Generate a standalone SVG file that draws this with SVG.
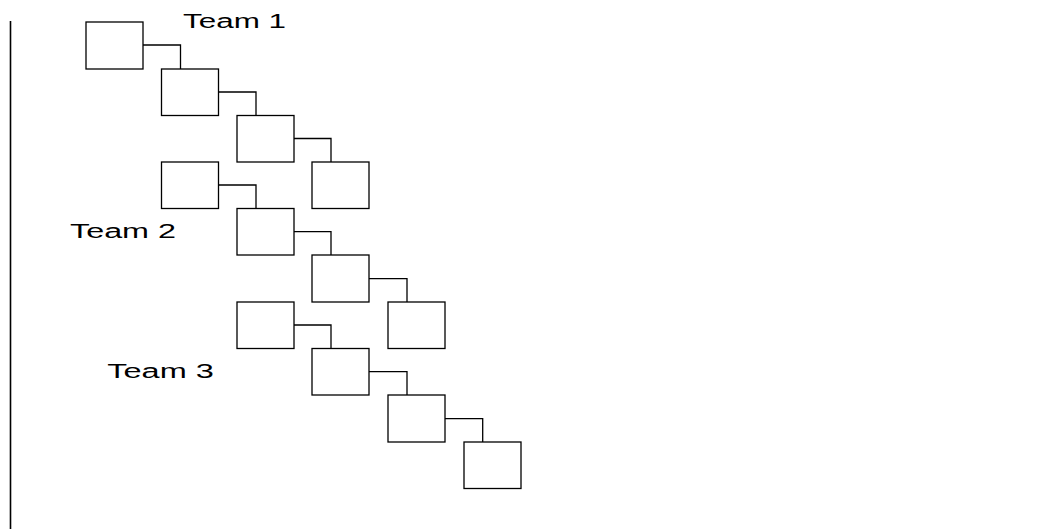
<svg xmlns="http://www.w3.org/2000/svg" width="1040" height="529" viewBox="0 0 1040 529">
<style>
.box{fill:#fff;stroke:#000;stroke-width:1.3}
.con{fill:none;stroke:#000;stroke-width:1.3}
.lbl{font-family:"Liberation Sans",Arial,sans-serif;font-size:20px;fill:#000}
</style>
<rect width="1040" height="529" fill="#fff"/>
<line x1="10.5" y1="21" x2="10.5" y2="529" stroke="#000" stroke-width="1.6"/>
<g id="connectors">
<path class="con" d="M143,45H180.5V69"/>
<path class="con" d="M218.5,92H256V115.5"/>
<path class="con" d="M294,138.5H331V162"/>
<path class="con" d="M218.5,185H256V208.5"/>
<path class="con" d="M294,231.7H331V255"/>
<path class="con" d="M369,278.7H407V302"/>
<path class="con" d="M294,325H331V348.7"/>
<path class="con" d="M369,371.7H407V395"/>
<path class="con" d="M445,418.7H482.7V442"/>
</g>
<g id="t1n1"><rect class="box" x="86" y="22" width="57" height="47"/></g>
<g id="t1n2"><rect class="box" x="161.5" y="69" width="57" height="46.5"/></g>
<g id="t1n3"><rect class="box" x="237" y="115.5" width="57" height="46.5"/></g>
<g id="t1n4"><rect class="box" x="312" y="162" width="57" height="46.5"/></g>
<g id="t2n1"><rect class="box" x="161.5" y="162" width="57" height="46.5"/></g>
<g id="t2n2"><rect class="box" x="237" y="208.5" width="57" height="46.5"/></g>
<g id="t2n3"><rect class="box" x="312" y="255" width="57" height="47"/></g>
<g id="t2n4"><rect class="box" x="388" y="302" width="57" height="46.5"/></g>
<g id="t3n1"><rect class="box" x="237" y="302" width="57" height="46.5"/></g>
<g id="t3n2"><rect class="box" x="312" y="348.5" width="57" height="46.5"/></g>
<g id="t3n3"><rect class="box" x="388" y="395" width="57" height="47"/></g>
<g id="t3n4"><rect class="box" x="464" y="442" width="57" height="46.5"/></g>
<g id="labels">
<text class="lbl" x="183" y="28.3" textLength="103" lengthAdjust="spacingAndGlyphs">Team 1</text>
<text class="lbl" x="70" y="238.3" textLength="106" lengthAdjust="spacingAndGlyphs">Team 2</text>
<text class="lbl" x="107.3" y="378.3" textLength="106.5" lengthAdjust="spacingAndGlyphs">Team 3</text>
</g>
</svg>
